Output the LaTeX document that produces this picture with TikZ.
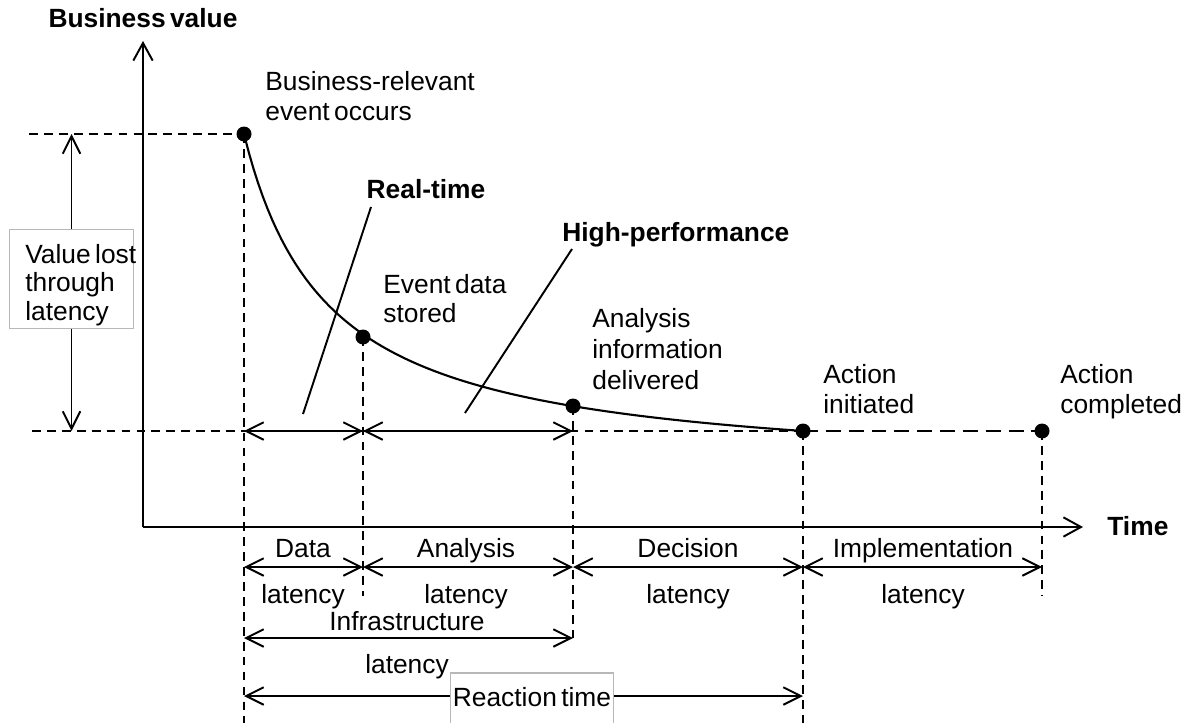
\documentclass[tikz,border=0pt]{standalone}
\usepackage{fontspec}
\setmainfont{Liberation Sans}[WordSpace=0.6]
\usetikzlibrary{arrows.meta}
\begin{document}
\begin{tikzpicture}[x=0.02cm,y=-0.02cm,
  every node/.style={inner sep=0pt, font=\fontsize{15}{17}\selectfont},
  txt/.style={anchor=base},
  txtl/.style={anchor=north west, align=left},
  head/.style={anchor=base, font=\fontsize{15}{17}\selectfont\bfseries},
  dot/.style={circle, fill=black, minimum size=0.3cm},
  greybox/.style={draw=black!28, line width=0.6pt, fill=white},
  ln/.style={line width=1.1pt},
  dim/.style={ln, {Straight Barb[length=10pt,width=10pt]}-{Straight Barb[length=10pt,width=10pt]}},
  axis/.style={ln, -{Straight Barb[length=10pt,width=11pt]}},
  guide/.style={line width=1.15pt, dash pattern=on 5pt off 3.5pt},
  longguide/.style={line width=1.15pt, dash pattern=on 8.5pt off 4.5pt}]

\path[use as bounding box, clip] (0,0) rectangle (1196,723);

% axes
\coordinate (origin) at (143,527);
\coordinate (ytip) at (143,41);
\coordinate (xtip) at (1083,527);
\draw[axis] (origin) -- (ytip);
\draw[axis] (origin) -- (xtip);
\node[head] (ylab) at (143,28) {Business value};
\node[head, anchor=base west] (xlab) at (1107,535) {Time};

% reference levels and rows
\coordinate (base) at (0,431);
\coordinate (row1) at (0,567);
\coordinate (row2) at (0,638);
\coordinate (row3) at (0,696);
\coordinate (bottom) at (0,723);
\coordinate (shortend) at (0,596);

% value curve
\draw[line width=1.2pt] plot[domain=244:803, samples=120]
  (\x, {475.6 - 286.96/((\x-160)/100)});

% events on the curve
\node[dot] (e0) at (244,134) {};
\node[dot] (e1) at (363,337) {};
\node[dot] (e2) at (573,406) {};
\node[dot] (e3) at (803,431) {};
\node[dot] (e4) at (1042,431) {};

% guide lines
\coordinate (topleft) at (29,134);
\coordinate (baseleft) at (32,431);
\draw[guide] (topleft) -- (e0.center);
\draw[guide] (baseleft) -- (e3.center);
\draw[longguide] (e3.center) -- (e4.center);
\draw[guide] (e0.center) -- (e0 |- bottom);
\draw[guide] (e1.center) -- (e1 |- shortend);
\draw[guide] (e2.center) -- (e2 |- row2);
\draw[guide] (e3.center) -- (e3 |- bottom);
\draw[guide] (e4.center) -- (e4 |- shortend);

% event labels
\node[txtl] (t0) at (265,71) {Business-relevant\\event occurs};
\node[txtl, font=\fontsize{15}{16.5}\selectfont] (t1) at (383,274) {Event data\\stored};
\node[txtl, font=\fontsize{15}{17.8}\selectfont] (t2) at (592,308) {Analysis\\information\\delivered};
\node[txtl] (t3) at (823,364) {Action\\initiated};
\node[txtl] (t4) at (1060,364) {Action\\completed};

% value lost
\node[greybox, minimum width=2.48cm, minimum height=1.98cm, anchor=north west] (lossbox) at (9,229) {};
\node[txtl, font=\fontsize{15}{16.2}\selectfont] (losstext) at (25,244) {Value lost\\through\\latency};
\draw[ln, -{Straight Barb[length=10pt,width=10pt]}] (lossbox.north) -- (lossbox.north |- e0);
\draw[ln, -{Straight Barb[length=10pt,width=10pt]}] (lossbox.south) -- (lossbox.south |- base);

% latency spans on the value level
\draw[dim] (e0 |- base) -- (e1 |- base);
\draw[dim] (e1 |- base) -- (e2 |- base);

% technology pointers
\node[head] (rt) at (426,198) {Real-time};
\node[head, anchor=base west] (hp) at (562,241) {High-performance};
\coordinate (rtA) at (371,207);
\coordinate (rtB) at (303,414);
\coordinate (hpA) at (572,249);
\coordinate (hpB) at (465,413);
\draw[ln] (rtA) -- (rtB);
\draw[ln] (hpA) -- (hpB);

% latency rows under the time axis
\draw[dim] (e0 |- row1) -- (e1 |- row1);
\draw[dim] (e1 |- row1) -- (e2 |- row1);
\draw[dim] (e2 |- row1) -- (e3 |- row1);
\draw[dim] (e3 |- row1) -- (e4 |- row1);
\node[txt] (l1a) at (303,557) {Data};
\node[txt] (l1b) at (303,603) {latency};
\node[txt] (l2a) at (466,557) {Analysis};
\node[txt] (l2b) at (466,603) {latency};
\node[txt] (l3a) at (688,557) {Decision};
\node[txt] (l3b) at (688,603) {latency};
\node[txt] (l4a) at (923,557) {Implementation};
\node[txt] (l4b) at (923,603) {latency};

\draw[dim] (e0 |- row2) -- (e2 |- row2);
\node[txt] (infa) at (407,630) {Infrastructure};
\node[txt] (infb) at (407,673) {latency};

\draw[dim] (e0 |- row3) -- (e3 |- row3);
\node[greybox, txt, minimum width=3.26cm, text height=0.66cm, text depth=0.7cm] (react) at (532,706) {Reaction time};

\end{tikzpicture}
\end{document}
